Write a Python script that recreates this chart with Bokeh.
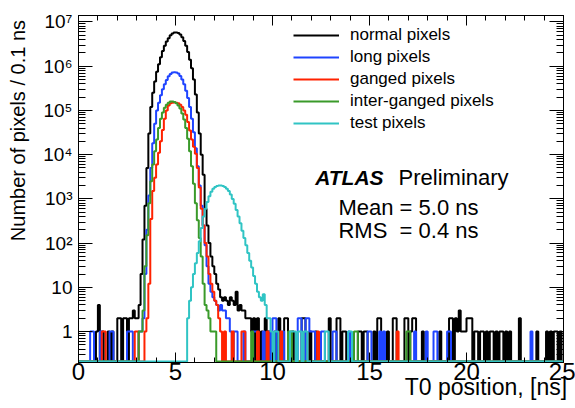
import numpy as np
from bokeh.plotting import figure
from bokeh.models import (Range1d, FixedTicker, LinearAxis, LogAxis, Legend,
                          LegendItem, Label)
from bokeh.embed import file_html
from bokeh.resources import INLINE

# ---------------- data ----------------
BIN = 0.1
X_MIN, X_MAX = 0.0, 25.0
Y_MIN, Y_MAX = 0.2, 1.4e7

series_names = ["normal pixels", "long pixels", "ganged pixels",
                "inter-ganged pixels", "test pixels"]
series_colors = ["#000000", "#1f44ff", "#ff2200", "#3a9a2a", "#30c4c4"]

# contiguous part of each histogram: left edge of first bin + counts per 0.1 ns
normal_start = 3.0
normal_counts = [2, 4, 20, 120, 700, 5000, 30000, 120000, 250000, 450000,
                 750000, 1.1e6, 1.6e6, 2.2e6, 2.9e6, 3.6e6, 4.3e6, 5.0e6, 5.5e6, 5.8e6,
                 5.8e6, 5.6e6, 5.2e6, 4.5e6, 3.7e6, 2.9e6, 2.1e6, 1.4e6, 9.0e5, 5.0e5,
                 2.3e5, 9.0e4, 3.0e4, 1.0e4, 3500, 600, 250, 100, 50, 30,
                 20, 12, 9, 6, 5, 6, 5, 4, 6, 5,
                 4, 8, 3, 4, 3, 3, 2, 2, 2, 1, 2]
long_start = 3.3
long_counts = [2, 20, 200, 1200, 5000, 18000, 50000,
               1.0e5, 1.5e5, 2.2e5, 3.0e5, 3.9e5, 4.9e5, 5.9e5, 6.7e5, 7.2e5, 7.3e5,
               7.2e5, 6.8e5, 6.0e5, 5.0e5, 3.9e5, 2.8e5, 1.9e5, 1.2e5, 6.5e4, 3.2e4,
               1.4e4, 5500, 2000, 700, 250, 90, 30, 12, 8, 6,
               5, 4, 3, 4, 3, 3, 2, 2, 1]
ganged_start = 3.4
ganged_counts = [1, 2, 12, 350, 1500, 3000,
                 6000, 11000, 20000, 36000, 65000, 1.0e5, 1.3e5, 1.45e5, 1.5e5, 1.52e5,
                 1.5e5, 1.45e5, 1.35e5, 1.2e5, 1.0e5, 8.0e4, 5.5e4, 3.5e4, 2.2e4, 1.5e4,
                 1.05e4, 5000, 1800, 600, 250, 100, 50, 20, 12, 8,
                 5, 4, 2, 1]
interganged_start = 3.2
interganged_counts = [1, 3, 30, 150, 800, 2500, 6000, 12000,
                      22000, 40000, 65000, 90000, 1.15e5, 1.35e5, 1.5e5, 1.6e5, 1.6e5, 1.55e5,
                      1.45e5, 1.3e5, 1.1e5, 8.5e4, 6.2e4, 4.0e4, 2.3e4, 1.2e4, 5500, 2200,
                      800, 330, 130, 50, 12, 4, 3, 2, 1]
test_start = 5.6
test_counts = [2, 5, 10, 20,
               35, 60, 110, 220, 400, 600, 850, 1150, 1450, 1700,
               1850, 1950, 2000, 2000, 1950, 1850, 1700, 1500, 1250, 1000,
               780, 560, 400, 280, 190, 130, 90, 60, 40, 28,
               18, 12, 8, 6, 5, 7, 4, 2, 2, 1]

# isolated (noise) bins: left edge of bin and count
normal_extra_t = [0.9, 1.0, 1.2, 1.5, 1.7, 2.0, 2.1, 2.3, 2.4, 2.6, 2.7, 2.8, 2.9,
                  9.2, 9.4, 9.6, 9.7, 9.8, 10.1, 10.3, 10.6, 10.7, 11.0, 11.5, 11.6,
                  11.9, 12.2, 12.9, 13.3, 13.4, 13.6, 13.7, 14.4, 14.5, 14.7, 14.8,
                  15.2, 15.4, 15.5, 15.9, 16.2, 16.3, 16.8, 16.9, 17.1, 17.2, 17.3,
                  17.7, 18.6, 19.1, 19.2, 19.4, 19.5, 19.6, 19.7, 19.8, 19.9, 20.0,
                  20.1, 20.2, 20.4, 20.5, 20.7, 20.8, 21.0, 21.2, 21.3, 21.5, 21.7,
                  21.8, 22.0, 22.2, 22.7, 23.6, 24.1, 24.3, 24.5, 24.6, 24.8]
normal_extra_n = [1, 4, 1, 1, 1, 2, 2, 2, 2, 2, 2, 3, 2,
                  2, 1, 2, 1, 1, 1, 2, 2, 2, 1, 2, 2,
                  1, 1, 2, 2, 2, 1, 1, 1, 1, 1, 1,
                  1, 2, 2, 1, 2, 2, 2, 2, 1, 2, 2,
                  1, 1, 2, 2, 2, 1, 3, 1, 1, 1, 2,
                  2, 2, 1, 1, 1, 1, 1, 1, 1, 1, 1,
                  1, 1, 1, 2, 1, 1, 1, 1, 1, 1]
long_extra_t = [0.6, 0.7, 1.1, 1.6, 1.7, 2.5, 2.6, 2.7, 3.1, 3.2,
                8.0, 8.1, 8.5, 9.0, 9.1, 9.5, 9.8, 10.0, 10.1, 10.5, 11.3, 11.4,
                11.7, 11.8, 11.9, 12.0, 12.1, 12.5, 12.6, 13.1, 13.2, 13.9, 14.9,
                15.0, 15.5, 15.7, 17.3, 17.9, 18.3, 18.4, 19.0, 19.1, 23.3]
long_extra_n = [1, 1, 1, 1, 1, 1, 1, 1, 1, 1,
                1, 1, 1, 1, 1, 1, 1, 2, 2, 1, 2, 2,
                2, 2, 1, 1, 1, 1, 1, 1, 1, 1, 1,
                1, 1, 1, 1, 1, 1, 1, 1, 1, 1]
ganged_extra_t = [1.2, 1.3, 2.9, 3.0, 7.5, 7.9, 8.4, 8.5, 9.2, 9.7, 10.4, 12.3, 16.4]
ganged_extra_n = [1, 1, 1, 1, 1, 1, 1, 1, 1, 1, 1, 1, 1]
interganged_extra_t = [3.1, 6.9, 7.0, 8.9, 10.8, 10.9, 14.2, 14.3, 16.9, 17.0]
interganged_extra_n = [1, 1, 1, 1, 1, 1, 1, 1, 1, 1]
test_extra_t = [10.1, 10.2, 10.9, 11.0, 11.1, 11.3, 11.4, 11.6, 11.7, 12.7, 12.8,
                13.9, 14.0]
test_extra_n = [1, 1, 1, 1, 1, 1, 1, 1, 1, 1, 1, 1, 1]

x_tick_values = [0, 5, 10, 15, 20, 25]
y_tick_values = [1.0, 10.0, 100.0, 1e3, 1e4, 1e5, 1e6, 1e7]
y_tick_labels = ["1", "10", "10\u00b2", "10\u00b3", "10\u2074", "10\u2075",
                 "10\u2076", "10\u2077"]

x_title = "T0 position, [ns]"
y_title = "Number of pixels / 0.1 ns"
FONT = "Liberation Sans"
INK = "black"

# ---------------- histogram building ----------------
n_bins = int(round((X_MAX - X_MIN) / BIN))
edges = X_MIN + BIN * np.arange(n_bins + 1)
FLOOR = Y_MIN * 1.05  # empty bins drawn on the bottom of the frame


def build(start, counts, extra_t, extra_n):
    v = np.zeros(n_bins)
    i0 = int(round((start - X_MIN) / BIN))
    v[i0:i0 + len(counts)] = counts
    for t, n in zip(extra_t, extra_n):
        v[int(round((t - X_MIN) / BIN))] = n
    return v


hists = [
    build(normal_start, normal_counts, normal_extra_t, normal_extra_n),
    build(long_start, long_counts, long_extra_t, long_extra_n),
    build(ganged_start, ganged_counts, ganged_extra_t, ganged_extra_n),
    build(interganged_start, interganged_counts, interganged_extra_t, interganged_extra_n),
    build(test_start, test_counts, test_extra_t, test_extra_n),
]

# ---------------- figure ----------------
p = figure(width=575, height=408,
           x_range=Range1d(X_MIN, X_MAX), y_range=Range1d(Y_MIN, Y_MAX),
           y_axis_type="log", output_backend="svg", toolbar_location=None,
           min_border_left=78, min_border_right=12, min_border_top=15,
           min_border_bottom=46)
p.xgrid.visible = False
p.ygrid.visible = False
p.outline_line_color = INK
p.outline_line_width = 1
p.background_fill_color = "white"
p.border_fill_color = "white"

x_ticker = FixedTicker(ticks=x_tick_values, minor_ticks=list(range(0, 26)))
y_minor = [k * 10.0 ** e for e in range(-1, 8) for k in range(2, 10)]
y_ticker = FixedTicker(ticks=y_tick_values, minor_ticks=y_minor)

xa = p.xaxis[0]
xa.ticker = x_ticker
xa.major_label_text_font = FONT
xa.major_label_text_font_size = "24px"
xa.major_label_text_color = INK
xa.major_label_standoff = 0
xa.major_tick_in = 10
xa.major_tick_out = 0
xa.minor_tick_in = 5
xa.minor_tick_out = 0
xa.axis_line_color = INK

ya = p.yaxis[0]
ya.ticker = y_ticker
ya.major_label_overrides = dict(zip(y_tick_values, y_tick_labels))
ya.major_label_text_font = FONT
ya.major_label_text_font_size = "19px"
ya.major_label_text_color = INK
ya.major_label_standoff = 6
ya.major_tick_in = 14
ya.major_tick_out = 0
ya.minor_tick_in = 7
ya.minor_tick_out = 0
ya.axis_line_color = INK

top = LinearAxis(ticker=x_ticker, major_label_text_font_size="1px",
                 major_label_text_alpha=0,
                 major_label_standoff=0, major_tick_in=10, major_tick_out=0,
                 minor_tick_in=5, minor_tick_out=0, axis_line_color=INK)
right = LogAxis(ticker=y_ticker, major_label_text_font_size="1px",
                major_label_text_alpha=0,
                major_label_standoff=0, major_tick_in=14, major_tick_out=0,
                minor_tick_in=7, minor_tick_out=0, axis_line_color=INK)
p.add_layout(top, "above")
p.add_layout(right, "right")

# axis titles, ROOT style (aligned to the far ends of the axes): drawn as the
# single label of an extra, line-less axis so that they sit outside the frame
X_TITLE_AT = 21.0      # centre of the x title, ns
Y_TITLE_AT = 3.5e4     # centre of the y title, counts
x_title_axis = LinearAxis(ticker=FixedTicker(ticks=[X_TITLE_AT], minor_ticks=[]),
                          major_label_overrides={X_TITLE_AT: x_title},
                          major_label_text_font=FONT,
                          major_label_text_font_size="23px",
                          major_label_text_color=INK,
                          major_label_standoff=-9, axis_line_color=None,
                          major_tick_line_color=None, minor_tick_line_color=None,
                          major_tick_in=0, major_tick_out=0,
                          minor_tick_in=0, minor_tick_out=0)
y_title_axis = LogAxis(ticker=FixedTicker(ticks=[Y_TITLE_AT], minor_ticks=[]),
                       major_label_overrides={Y_TITLE_AT: y_title},
                       major_label_text_font=FONT,
                       major_label_text_font_size="20px",
                       major_label_text_color=INK,
                       major_label_orientation="parallel",
                       major_label_standoff=11, axis_line_color=None,
                       major_tick_line_color=None, minor_tick_line_color=None,
                       major_tick_in=0, major_tick_out=0,
                       minor_tick_in=0, minor_tick_out=0)
p.add_layout(x_title_axis, "below")
p.add_layout(y_title_axis, "left")

renderers = []
for v, c in zip(hists, series_colors):
    xs = np.repeat(edges, 2)[1:-1]
    ys = np.repeat(np.where(v > 0, v, FLOOR), 2)
    r = p.line(xs, ys, line_color=c, line_width=2)
    renderers.append(r)

legend = Legend(items=[LegendItem(label=n, renderers=[r])
                       for n, r in zip(series_names, renderers)],
                location=(215, 229), padding=0, margin=0, spacing=2,
                glyph_width=46, glyph_height=20, label_height=20,
                label_standoff=11, label_text_font=FONT,
                label_text_font_size="17px", label_text_baseline="middle",
                label_text_color=INK,
                border_line_alpha=0, background_fill_alpha=0)
p.add_layout(legend)

p.add_layout(Label(x=12.2, y=3090, text="ATLAS", text_font=FONT,
                   text_font_size="21px", text_font_style="bold italic",
                   text_color=INK, text_baseline="alphabetic"))
p.add_layout(Label(x=16.5, y=3090, text="Preliminary", text_font=FONT,
                   text_font_size="22px", text_color=INK,
                   text_baseline="alphabetic"))
p.add_layout(Label(x=13.4, y=638, text="Mean = 5.0 ns", text_font=FONT,
                   text_font_size="22px", text_color=INK,
                   text_baseline="alphabetic"))
p.add_layout(Label(x=13.4, y=193, text="RMS\u00a0 = 0.4 ns", text_font=FONT,
                   text_font_size="22px", text_color=INK,
                   text_baseline="alphabetic"))

open("out.html", "w").write(file_html(p, INLINE))
